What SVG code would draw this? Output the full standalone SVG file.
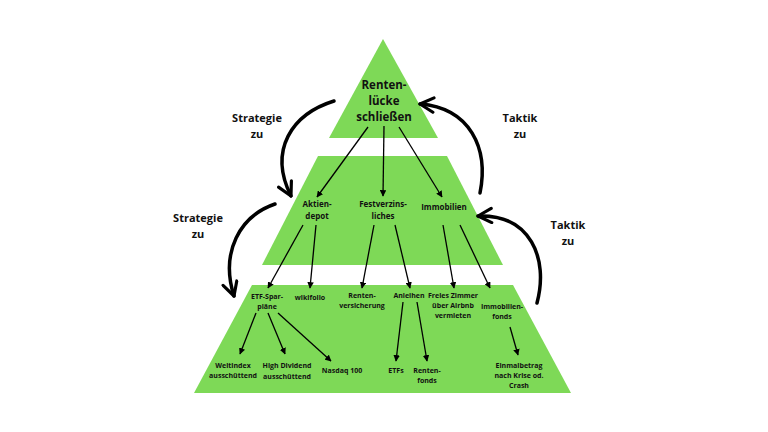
<svg xmlns="http://www.w3.org/2000/svg" width="768" height="432" viewBox="0 0 768 432">
<defs>
<style>
.lvl{fill:#7ed957}
text{font-family:"Open Sans","Liberation Sans",sans-serif;font-weight:700;fill:#111;text-anchor:middle}
.t1{font-size:11.5px}
.t2{font-size:8px}
.t3{font-size:7px}
.lab{font-size:11px}
.thin{stroke:#000;stroke-width:1.3;fill:none;marker-end:url(#ah)}
.thick{stroke:#000;stroke-width:3.5;fill:none;stroke-linecap:round;marker-end:url(#chev)}
</style>
<marker id="ah" viewBox="0 0 10 10" refX="9" refY="5" markerWidth="5" markerHeight="5" orient="auto" markerUnits="strokeWidth">
<path d="M0,0 L10,5 L0,10 z" fill="#000"/>
</marker>
<marker id="chev" viewBox="0 0 20 20" refX="18" refY="10" markerWidth="18" markerHeight="18" orient="auto" markerUnits="userSpaceOnUse">
<path d="M3,2 L18,10 L3,18" fill="none" stroke="#000" stroke-width="3.5" stroke-linecap="round" stroke-linejoin="round"/>
</marker>
</defs>
<rect width="768" height="432" fill="#fff"/>
<g id="levels">
<polygon class="lvl" points="383,39 438,138 329,138"/>
<polygon class="lvl" points="318,156 447,156 503,265 262,265"/>
<polygon class="lvl" points="252,285 513,285 571,393 194,393"/>
</g>
<g id="connectors">
<line class="thin" x1="368" y1="127" x2="317" y2="197"/>
<line class="thin" x1="384" y1="126" x2="383" y2="196"/>
<line class="thin" x1="399" y1="127" x2="442" y2="197"/>
<line class="thin" x1="303" y1="225" x2="268" y2="288"/>
<line class="thin" x1="316" y1="225" x2="310" y2="288"/>
<line class="thin" x1="374" y1="225" x2="362" y2="288"/>
<line class="thin" x1="395" y1="225" x2="410" y2="288"/>
<line class="thin" x1="443" y1="225" x2="454" y2="288"/>
<line class="thin" x1="460" y1="225" x2="490" y2="288"/>
<line class="thin" x1="256" y1="313" x2="240" y2="354"/>
<line class="thin" x1="268" y1="313" x2="285" y2="354"/>
<line class="thin" x1="278" y1="313" x2="331" y2="361"/>
<line class="thin" x1="403" y1="302" x2="396" y2="361"/>
<line class="thin" x1="417" y1="302" x2="427" y2="361"/>
<line class="thin" x1="510" y1="327" x2="518" y2="355"/>
<path class="thick" d="M334,101 C292,114 268,150 291,196"/>
<path class="thick" d="M275,204 C240,216 220,252 234,296"/>
<path class="thick" d="M480,193 C489,148 470,108 420,104"/>
<path class="thick" d="M537,303 C549,258 530,214 478,216"/>
</g>
<g id="n-top">
<text class="t1" x="384" y="89">Renten-</text>
<text class="t1" x="384" y="105">lücke</text>
<text class="t1" x="384" y="121">schließen</text>
</g>
<g id="n-aktien"><text class="t2" x="317" y="207">Aktien-</text><text class="t2" x="317" y="219">depot</text></g>
<g id="n-fest"><text class="t2" x="383" y="207">Festverzins-</text><text class="t2" x="383" y="219">liches</text></g>
<g id="n-immo"><text class="t2" x="444" y="210">Immobilien</text></g>
<g id="n-etf"><text class="t3" x="267" y="299">ETF-Spar-</text><text class="t3" x="267" y="309">pläne</text></g>
<g id="n-wiki"><text class="t3" x="310" y="300">wikifolio</text></g>
<g id="n-rv"><text class="t3" x="362" y="298">Renten-</text><text class="t3" x="362" y="308">versicherung</text></g>
<g id="n-anl"><text class="t3" x="409" y="298">Anleihen</text></g>
<g id="n-zimmer"><text class="t3" x="453" y="298">Freies Zimmer</text><text class="t3" x="453" y="308">über Airbnb</text><text class="t3" x="453" y="318">vermieten</text></g>
<g id="n-ifonds"><text class="t3" x="502" y="309">Immobilien-</text><text class="t3" x="502" y="319">fonds</text></g>
<g id="n-welt"><text class="t3" x="233" y="368">Weltindex</text><text class="t3" x="233" y="378">ausschüttend</text></g>
<g id="n-high"><text class="t3" x="287" y="368">High Dividend</text><text class="t3" x="287" y="379">ausschüttend</text></g>
<g id="n-nasdaq"><text class="t3" x="342" y="373">Nasdaq 100</text></g>
<g id="n-etfs"><text class="t3" x="396" y="373">ETFs</text></g>
<g id="n-rfonds"><text class="t3" x="427" y="373">Renten-</text><text class="t3" x="427" y="383">fonds</text></g>
<g id="n-einmal"><text class="t3" x="519" y="368">Einmalbetrag</text><text class="t3" x="519" y="378">nach Krise od.</text><text class="t3" x="519" y="388">Crash</text></g>
<g id="labels">
<text class="lab" x="257" y="122">Strategie</text><text class="lab" x="257" y="138">zu</text>
<text class="lab" x="198" y="222">Strategie</text><text class="lab" x="198" y="238">zu</text>
<text class="lab" x="520" y="122">Taktik</text><text class="lab" x="520" y="138">zu</text>
<text class="lab" x="568" y="229">Taktik</text><text class="lab" x="568" y="245">zu</text>
</g>
</svg>
